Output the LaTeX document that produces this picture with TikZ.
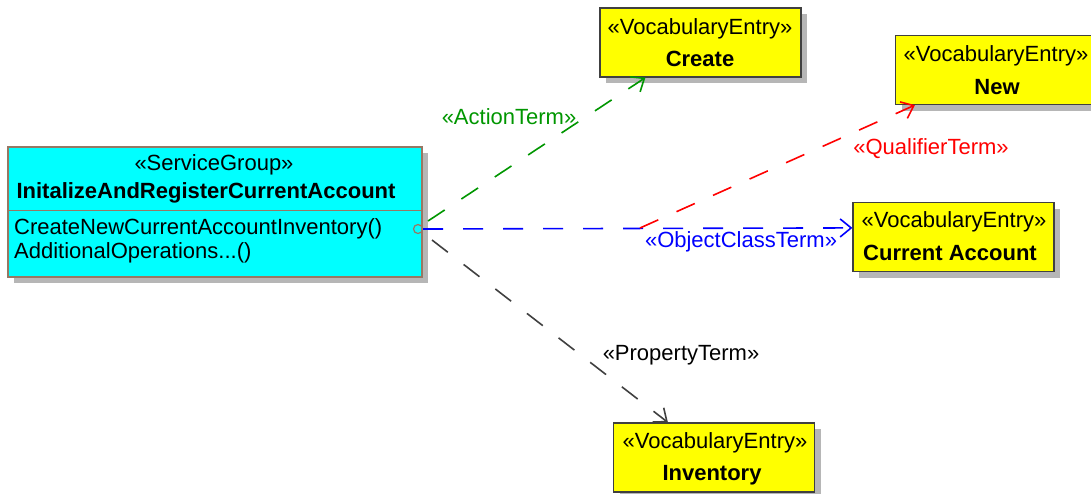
\documentclass[tikz,border=0pt]{standalone}
\usepackage{fontspec}
\setmainfont{Liberation Sans}
\usetikzlibrary{arrows.meta,shadows,calc}
\definecolor{termgreen}{RGB}{0,150,0}
\definecolor{termred}{RGB}{255,0,0}
\definecolor{termblue}{RGB}{0,0,255}
\definecolor{termgray}{RGB}{64,64,64}
\definecolor{entryborder}{RGB}{64,64,64}
\definecolor{svcborder}{RGB}{150,120,100}
\definecolor{shadowgray}{RGB}{182,182,182}
\definecolor{svcfill}{RGB}{0,255,255}
\definecolor{entryfill}{RGB}{255,255,0}
\begin{document}
\begin{tikzpicture}[x=1pt,y=-1pt,
  every node/.style={font=\fontsize{22}{26}\selectfont, inner sep=0pt},
  shadowed/.style={drop shadow={shadow xshift=6pt, shadow yshift=-6pt, fill=shadowgray, opacity=1}},
  svcbox/.style={shadowed, draw=svcborder, fill=svcfill, line width=1.2pt, minimum width=414pt, minimum height=130pt},
  entrybox/.style={shadowed, draw=entryborder, fill=entryfill, line width=1.2pt, minimum width=201pt, minimum height=69pt},
  boldtext/.style={font=\fontsize{22}{26}\selectfont\bfseries},
  dep/.style={line width=1.6pt, dash pattern=on 20pt off 20pt, -{Straight Barb[length=11pt,width=18pt]}}
]
\useasboundingbox (0,0) rectangle (1091,493);

% service group
\node[svcbox] (svc) at (215,212) {};
\draw[svcborder, line width=1.2pt] ($(svc.north west)+(0,64)$) -- ($(svc.north east)+(0,64)$);
\node (svcstereo) at (214,165) {«ServiceGroup»};
\node[boldtext] (svcname) at (206,193) {InitalizeAndRegisterCurrentAccount};
\node[anchor=west] (op1) at (14,229) {CreateNewCurrentAccountInventory()};
\node[anchor=west] (op2) at (14,253) {AdditionalOperations...()};
\node[circle, draw=svcborder, line width=1.2pt, minimum size=9pt] (port) at (418,229) {};

% vocabulary entries
\node[entrybox] (create) at (700.5,42.5) {};
\node (createst) at (700,29) {«VocabularyEntry»};
\node[boldtext] (createnm) at (700,59) {Create};

\node[entrybox] (new) at (996,70) {};
\node (newst) at (996,56) {«VocabularyEntry»};
\node[boldtext] (newnm) at (997,87) {New};

\node[entrybox] (ca) at (953.5,237) {};
\node (cast) at (954,222) {«VocabularyEntry»};
\node[boldtext] (canm) at (950,253) {Current Account};

\node[entrybox] (inv) at (714,457.5) {};
\node (invst) at (715,443) {«VocabularyEntry»};
\node[boldtext] (invnm) at (712,475) {Inventory};

% connector end points
\coordinate (actfrom) at ($(port)+(10,-8)$);
\coordinate (propfrom) at ($(port)+(14,11)$);
\coordinate (qualfrom) at (640,228);

% dependencies
\draw[dep, termgreen] (actfrom) -- ($(create.south west)+(46,0)$);
\draw[dep, termblue] (port.east) -- ($(ca.north west)+(0,26)$);
\draw[dep, termred] (qualfrom) -- ($(new.south west)+(20,0)$);
\draw[dep, termgray] (propfrom) -- ($(inv.north west)+(55,0)$);

% labels
\node[text=termgreen] (actlbl) at (509,117) {«ActionTerm»};
\node[text=termred] (quallbl) at (931,149) {«QualifierTerm»};
\node[text=termblue] (objlbl) at (741,242) {«ObjectClassTerm»};
\node[text=black] (proplbl) at (681,355) {«PropertyTerm»};
\end{tikzpicture}
\end{document}
